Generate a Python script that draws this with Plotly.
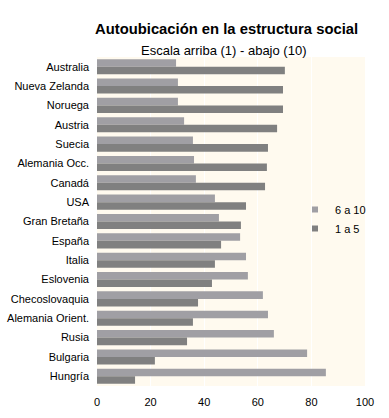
import plotly.graph_objects as go

countries = ["Australia", "Nueva Zelanda", "Noruega", "Austria", "Suecia", "Alemania Occ.",
             "Canadá", "USA", "Gran Bretaña", "España", "Italia", "Eslovenia",
             "Checoslovaquia", "Alemania Orient.", "Rusia", "Bulgaria", "Hungría"]
s6a10 = [29.5, 30.2, 30.2, 32.5, 35.8, 36.2, 36.9, 44.0, 45.5, 53.4, 55.6, 56.3, 61.9, 63.8, 66.0, 78.4, 85.4]
s1a5 = [70.1, 69.4, 69.4, 67.2, 63.8, 63.4, 62.7, 55.6, 53.7, 46.3, 44.0, 42.9, 37.7, 35.8, 33.6, 21.6, 14.2]
x_ticks = [0, 20, 40, 60, 80, 100]

c_light = "#A09FA4"
c_dark = "#808080"
font = "Liberation Sans, Arial, sans-serif"

L, R, T, B = 97, 24, 57, 32
WIDTH, HEIGHT = 389, 418
W = WIDTH - L - R
H = HEIGHT - T - B

fig = go.Figure()
fig.add_trace(go.Bar(y=countries, x=s6a10, orientation="h", name="6 a 10",
                     marker=dict(color=c_light, line=dict(width=0)), showlegend=False))
fig.add_trace(go.Bar(y=countries, x=s1a5, orientation="h", name="1 a 5",
                     marker=dict(color=c_dark, line=dict(width=0)), showlegend=False))
# legend entries with small square keys
fig.add_trace(go.Scatter(x=[None], y=[None], mode="markers", name="6 a 10",
                         marker=dict(symbol="square", size=6, color=c_light)))
fig.add_trace(go.Scatter(x=[None], y=[None], mode="markers", name="1 a 5",
                         marker=dict(symbol="square", size=6, color=c_dark)))


def px_x(p):
    return (p - L) / W


def px_y(p):
    return (HEIGHT - B - p) / H


fig.update_layout(
    width=WIDTH, height=HEIGHT,
    margin=dict(l=L, r=R, t=T, b=B, pad=0, autoexpand=False),
    paper_bgcolor="white",
    plot_bgcolor="#FFFAEF",
    barmode="group", bargap=0.22, bargroupgap=0,
    font=dict(family=font, size=11, color="black"),
    showlegend=True,
    legend=dict(x=px_x(295), y=px_y(195), xanchor="left", yanchor="top",
                bgcolor="rgba(0,0,0,0)", font=dict(size=11),
                itemwidth=30, tracegroupgap=0),
    xaxis=dict(range=[0, 100], tickvals=x_ticks, showgrid=True, gridcolor="white",
               gridwidth=1, zeroline=False, showline=False, ticks="",
               ticklabelstandoff=8, fixedrange=True, automargin=False),
    yaxis=dict(autorange="reversed", showgrid=False, zeroline=False, showline=False,
               ticks="", ticklabelstandoff=7, fixedrange=True, automargin=False),
    annotations=[
        dict(text="<b>Autoubicación en la estructura social</b>", x=px_x(226), y=px_y(29),
             xref="paper", yref="paper", showarrow=False, xanchor="center", yanchor="middle",
             font=dict(size=14.8, family=font)),
        dict(text="Escala arriba (1) - abajo (10)", x=px_x(223), y=px_y(51),
             xref="paper", yref="paper", showarrow=False, xanchor="center", yanchor="middle",
             font=dict(size=13, family=font)),
    ],
)

fig.write_html("out.html",
               config={"displayModeBar": False, "staticPlot": False},
               post_script="document.body.style.margin='0';document.body.style.padding='0';")
